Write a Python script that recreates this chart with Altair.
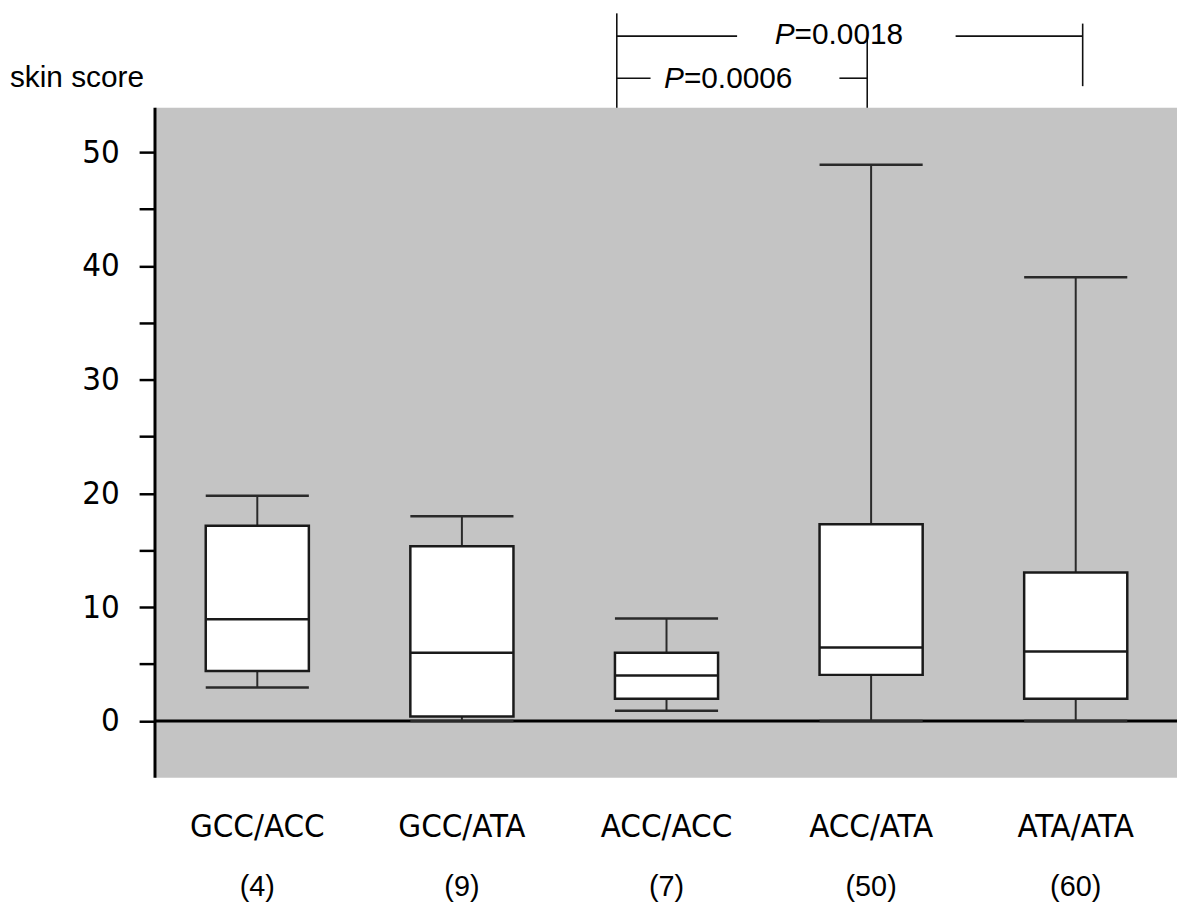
import altair as alt
import pandas as pd

# ---- data ----
groups = ["GCC/ACC", "GCC/ATA", "ACC/ACC", "ACC/ATA", "ATA/ATA"]
counts = ["(4)", "(9)", "(7)", "(50)", "(60)"]
whisker_low = [2.95, 0.0, 0.9, 0.0, 0.0]
q1 = [4.4, 0.4, 1.95, 4.05, 1.95]
median = [8.95, 6.0, 4.0, 6.45, 6.1]
q3 = [17.15, 15.35, 6.0, 17.3, 13.05]
whisker_high = [19.8, 18.0, 9.0, 48.9, 39.0]

y_major = [0, 10, 20, 30, 40, 50]
y_minor = [5, 15, 25, 35, 45]

# significance annotations
p_texts = ["=0.0018", "=0.0006"]
p_text_x = [3.126, 2.585]
p_text_y = [60.3, 56.4]
# bracket line segments (data units): x, x2, y, y2
br_x = [2.257, 4.534, 2.257, 3.913, 2.257, 3.345, 3.481]
br_x2 = [2.257, 4.534, 2.845, 4.534, 2.422, 3.481, 3.481]
br_y = [53.9, 55.8, 60.2, 60.2, 56.5, 56.5, 53.9]
br_y2 = [62.2, 61.3, 60.2, 60.2, 56.5, 56.5, 59.9]

# ---- layout ----
X_DOMAIN = [0, 4.995]
Y_DOMAIN = [-5, 62.4]
PLOT_TOP = 53.9
HALF = 0.252
NARROW = "DejaVu Sans Condensed, Liberation Sans Narrow, Roboto, sans-serif"
xs = alt.Scale(domain=X_DOMAIN, nice=False, zero=False)
ys = alt.Scale(domain=Y_DOMAIN, nice=False, zero=False)

tick_vals = sorted(y_major + y_minor)
yax = alt.Axis(
    values=tick_vals,
    labelExpr="datum.value % 10 === 0 ? datum.label : ''",
    domain=False, grid=False, ticks=True, tickSize=16, tickWidth=2.5,
    tickColor="black", labelFont=NARROW,
    labelFontSize=33, labelColor="black", labelPadding=20, title=None,
    orient="left")


def X(field):
    return alt.X(field, scale=xs, axis=None)


def Y(field):
    return alt.Y(field, scale=ys, axis=yax)


pos = [i + 0.5 for i in range(len(groups))]
box = pd.DataFrame({
    "group": groups, "count": counts, "pos": pos,
    "lo": whisker_low, "q1": q1, "med": median, "q3": q3, "hi": whisker_high,
})
box["left"] = box["pos"] - HALF
box["right"] = box["pos"] + HALF
box["label_y"] = -9.3
box["count_y"] = -14.6

bg_df = pd.DataFrame({"x0": [X_DOMAIN[0]], "x1": [X_DOMAIN[1]],
                      "y0": [Y_DOMAIN[0]], "y1": [PLOT_TOP]})

bg = alt.Chart(bg_df).mark_rect(color="#c4c4c4").encode(
    x=X("x0:Q"), x2="x1:Q", y=Y("y0:Q"), y2="y1:Q")

zero_df = pd.DataFrame({"x0": [X_DOMAIN[0]], "x1": [X_DOMAIN[1]], "y": [0]})
zero = alt.Chart(zero_df).mark_rule(color="black", strokeWidth=3).encode(
    x=X("x0:Q"), x2="x1:Q", y=Y("y:Q"))

yaxis_df = pd.DataFrame({"x": [0], "y0": [Y_DOMAIN[0]], "y1": [PLOT_TOP]})
yaxis = alt.Chart(yaxis_df).mark_rule(color="black", strokeWidth=3).encode(
    x=X("x:Q"), y=Y("y0:Q"), y2="y1:Q")

base = alt.Chart(box)
wcol = "#2a2a2a"
whisk_up = base.mark_rule(color=wcol, strokeWidth=2).encode(
    x=X("pos:Q"), y=Y("q3:Q"), y2="hi:Q")
whisk_dn = base.mark_rule(color=wcol, strokeWidth=2).encode(
    x=X("pos:Q"), y=Y("q1:Q"), y2="lo:Q")
cap_hi = base.mark_rule(color=wcol, strokeWidth=2.5).encode(
    x=X("left:Q"), x2="right:Q", y=Y("hi:Q"))
cap_lo = base.mark_rule(color=wcol, strokeWidth=2.5).encode(
    x=X("left:Q"), x2="right:Q", y=Y("lo:Q"))
boxes = base.mark_rect(fill="white", stroke="#1a1a1a", strokeWidth=2.5).encode(
    x=X("left:Q"), x2="right:Q", y=Y("q1:Q"), y2="q3:Q")
med = base.mark_rule(color="#1a1a1a", strokeWidth=2.5).encode(
    x=X("left:Q"), x2="right:Q", y=Y("med:Q"))

labels = base.mark_text(font=NARROW, fontSize=33,
                        color="black", baseline="middle").encode(
    x=X("pos:Q"), y=Y("label_y:Q"), text="group:N")
cnts = base.mark_text(font="Liberation Sans", fontSize=29,
                      color="black", baseline="middle").encode(
    x=X("pos:Q"), y=Y("count_y:Q"), text="count:N")

br_df = pd.DataFrame({"x": br_x, "x2": br_x2, "y": br_y, "y2": br_y2})
brackets = alt.Chart(br_df).mark_rule(color="#111", strokeWidth=1.6).encode(
    x=X("x:Q"), x2="x2:Q", y=Y("y:Q"), y2="y2:Q")

p_df = pd.DataFrame({"t": p_texts, "x": p_text_x, "y": p_text_y, "p": ["P", "P"]})
p_italic = alt.Chart(p_df).mark_text(font="Liberation Sans", fontSize=30,
                                     fontStyle="italic", align="right",
                                     baseline="middle", color="black").encode(
    x=X("x:Q"), y=Y("y:Q"), text="p:N")
p_rest = alt.Chart(p_df).mark_text(font="Liberation Sans", fontSize=30,
                                   align="left", baseline="middle",
                                   color="black").encode(
    x=X("x:Q"), y=Y("y:Q"), text="t:N")

title_df = pd.DataFrame({"t": ["skin score"], "x": [-0.709], "y": [56.5]})
ytitle = alt.Chart(title_df).mark_text(font="Liberation Sans", fontSize=30,
                                       align="left", baseline="middle",
                                       color="black").encode(
    x=X("x:Q"), y=Y("y:Q"), text="t:N")

chart = alt.layer(
    bg, zero, whisk_up, whisk_dn, cap_hi, cap_lo, boxes, med, yaxis,
    labels, cnts, brackets, p_italic, p_rest, ytitle,
).properties(
    width=1029, height=772,
    autosize=alt.AutoSizeParams(type="none"),
    padding={"left": 148, "top": 0, "right": 0, "bottom": 135},
).configure(
    background="white",
    view=alt.ViewConfig(stroke="transparent", strokeWidth=0),
)

chart.save("out.html", embed_options={"renderer": "svg", "actions": False})
